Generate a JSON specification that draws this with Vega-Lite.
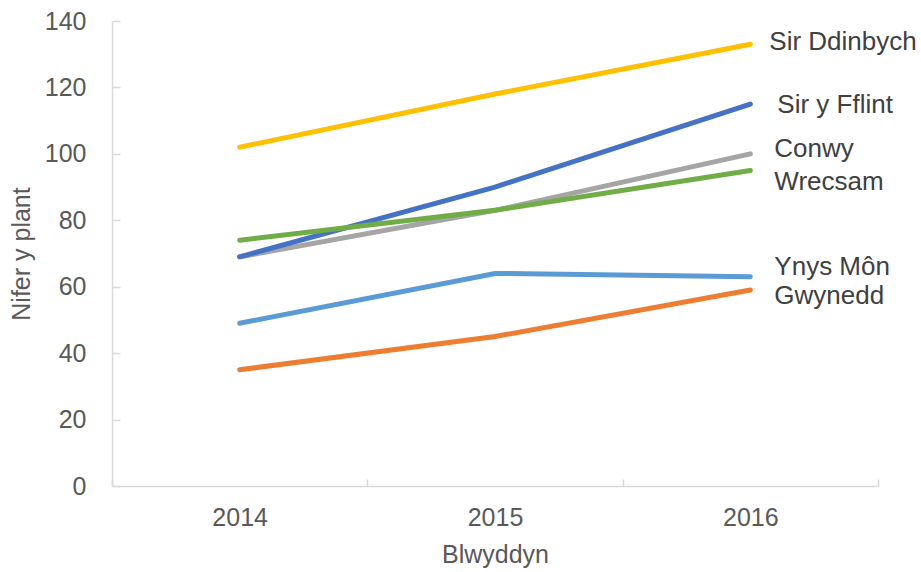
{
  "$schema": "https://vega.github.io/schema/vega-lite/v6.json",
  "width": 766,
  "height": 465,
  "autosize": "none",
  "padding": {"left": 112, "top": 21, "right": 43, "bottom": 86},
  "config": {"view": {"stroke": null}, "font": "Liberation Sans"},
  "data": {
    "values": [
      {"year": "2014", "series": "Gwynedd", "value": 35},
      {"year": "2015", "series": "Gwynedd", "value": 45},
      {"year": "2016", "series": "Gwynedd", "value": 59},
      {"year": "2014", "series": "Ynys Môn", "value": 49},
      {"year": "2015", "series": "Ynys Môn", "value": 64},
      {"year": "2016", "series": "Ynys Môn", "value": 63},
      {"year": "2014", "series": "Conwy", "value": 69},
      {"year": "2015", "series": "Conwy", "value": 83},
      {"year": "2016", "series": "Conwy", "value": 100},
      {"year": "2014", "series": "Sir Ddinbych", "value": 102},
      {"year": "2015", "series": "Sir Ddinbych", "value": 118},
      {"year": "2016", "series": "Sir Ddinbych", "value": 133},
      {"year": "2014", "series": "Sir y Fflint", "value": 69},
      {"year": "2015", "series": "Sir y Fflint", "value": 90},
      {"year": "2016", "series": "Sir y Fflint", "value": 115},
      {"year": "2014", "series": "Wrecsam", "value": 74},
      {"year": "2015", "series": "Wrecsam", "value": 83},
      {"year": "2016", "series": "Wrecsam", "value": 95}
    ]
  },
  "encoding": {
    "x": {
      "field": "year", "type": "ordinal",
      "scale": {"type": "band", "paddingInner": 0, "paddingOuter": 0},
      "axis": {
        "title": "Blwyddyn", "labelAngle": 0, "tickBand": "extent",
        "domainColor": "#d9d9d9", "domainWidth": 1.5, "tickColor": "#d9d9d9", "tickWidth": 1.5, "tickSize": -7,
        "labelFontSize": 25, "labelColor": "#595959", "labelPadding": 26,
        "titleFontSize": 25, "titleFontWeight": "normal", "titleColor": "#595959", "titlePadding": 12
      }
    },
    "y": {
      "field": "value", "type": "quantitative",
      "scale": {"domain": [0, 140]},
      "axis": {
        "title": "Nifer y plant", "values": [0, 20, 40, 60, 80, 100, 120, 140], "grid": false,
        "domainColor": "#d9d9d9", "domainWidth": 1.5, "tickColor": "#d9d9d9", "tickWidth": 1.5, "tickSize": -8,
        "labelFontSize": 25, "labelColor": "#595959", "labelPadding": 34,
        "titleFontSize": 25, "titleFontWeight": "normal", "titleColor": "#595959", "titlePadding": 10
      }
    }
  },
  "layer": [
    {
      "mark": {"type": "line", "strokeWidth": 5, "strokeCap": "round"},
      "encoding": {
        "color": {
          "field": "series", "type": "nominal", "legend": null,
          "scale": {
            "domain": ["Gwynedd", "Ynys Môn", "Conwy", "Sir Ddinbych", "Sir y Fflint", "Wrecsam"],
            "range": ["#ED7D31", "#5B9BD5", "#A5A5A5", "#FFC000", "#4472C4", "#70AD47"]
          }
        },
        "order": {"field": "year"}
      }
    },
    {
      "transform": [{"filter": "datum.year == '2016' && datum.series == 'Sir Ddinbych'"}],
      "mark": {"type": "text", "align": "left", "baseline": "middle", "dx": 19, "dy": -2, "fontSize": 26, "color": "#404040"},
      "encoding": {"text": {"field": "series"}}
    },
    {
      "transform": [{"filter": "datum.year == '2016' && datum.series == 'Sir y Fflint'"}],
      "mark": {"type": "text", "align": "left", "baseline": "middle", "dx": 27, "dy": 1, "fontSize": 26, "color": "#404040"},
      "encoding": {"text": {"field": "series"}}
    },
    {
      "transform": [{"filter": "datum.year == '2016' && datum.series == 'Conwy'"}],
      "mark": {"type": "text", "align": "left", "baseline": "middle", "dx": 24, "dy": -5, "fontSize": 26, "color": "#404040"},
      "encoding": {"text": {"field": "series"}}
    },
    {
      "transform": [{"filter": "datum.year == '2016' && datum.series == 'Wrecsam'"}],
      "mark": {"type": "text", "align": "left", "baseline": "middle", "dx": 24, "dy": 12, "fontSize": 26, "color": "#404040"},
      "encoding": {"text": {"field": "series"}}
    },
    {
      "transform": [{"filter": "datum.year == '2016' && datum.series == 'Ynys Môn'"}],
      "mark": {"type": "text", "align": "left", "baseline": "middle", "dx": 24, "dy": -10, "fontSize": 26, "color": "#404040"},
      "encoding": {"text": {"field": "series"}}
    },
    {
      "transform": [{"filter": "datum.year == '2016' && datum.series == 'Gwynedd'"}],
      "mark": {"type": "text", "align": "left", "baseline": "middle", "dx": 24, "dy": 6, "fontSize": 26, "color": "#404040"},
      "encoding": {"text": {"field": "series"}}
    }
  ]
}
